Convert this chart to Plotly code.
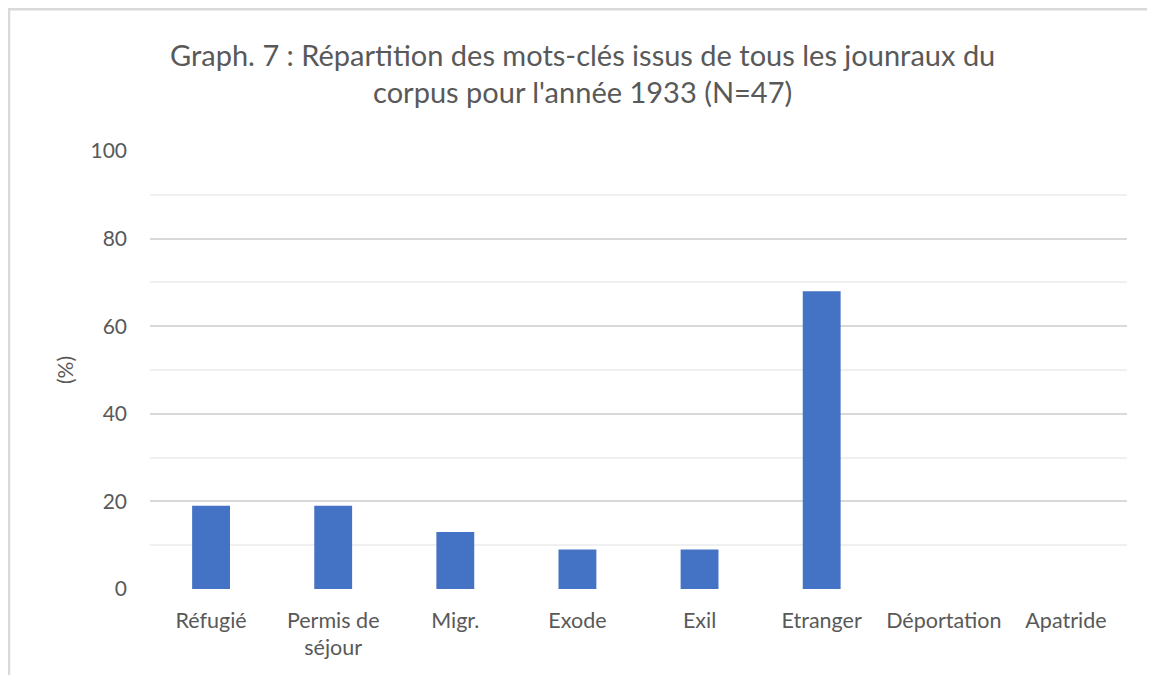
import plotly.graph_objects as go

# mots-clés, année 1933 (N=47), en %
motsCles = ["Réfugié", "Permis de<br>séjour", "Migr.", "Exode", "Exil",
            "Etranger", "Déportation", "Apatride"]
pourcentages = [19, 19, 13, 9, 9, 68, 0, 0]

yTicks = [0, 20, 40, 60, 80, 100]

titre = ("Graph. 7 : Répartition des mots-clés issus de tous les jounraux du<br>"
         "corpus pour l'année 1933 (N=47)")

fontName = "Lato"
gris = "#595959"

fig = go.Figure(go.Bar(x=motsCles, y=pourcentages,
                       marker=dict(color="#4472c4", line=dict(width=0)),
                       width=0.31, hoverinfo="x+y"))

# la page ajoute déjà 8px de marge autour du graphique
fig.update_layout(
    width=1147, height=667,
    paper_bgcolor="white", plot_bgcolor="white",
    margin=dict(l=142, r=28, t=143, b=86),
    font=dict(family=fontName, color=gris, size=21),
    title=dict(text=titre, x=0.501, xanchor="center", y=0.9135, yanchor="middle",
               font=dict(size=29, color=gris, family=fontName)),
    showlegend=False,
    bargap=0.69,
)

fig.update_xaxes(showline=False, ticks="", tickfont=dict(size=21.5, color=gris),
                 ticklabelstandoff=16)
fig.update_yaxes(range=[0, 100], tickvals=yTicks, showgrid=True, gridcolor="#d9d9d9",
                 gridwidth=1.5, zeroline=False, showline=False, ticks="",
                 tickfont=dict(size=21, color=gris), ticklabelstandoff=22,
                 minor=dict(dtick=10, showgrid=True, gridcolor="#f0f0f0", gridwidth=1.5),
                 title=dict(text="(%)", font=dict(size=21, color=gris), standoff=11))

# cadre gris clair du graphique
fig.add_shape(type="rect", xref="paper", yref="paper", x0=-0.1443, x1=1.1,
              y0=-0.3, y1=1.3235, line=dict(color="#d9d9d9", width=2.5), layer="below")

fig.write_html("out.html")
